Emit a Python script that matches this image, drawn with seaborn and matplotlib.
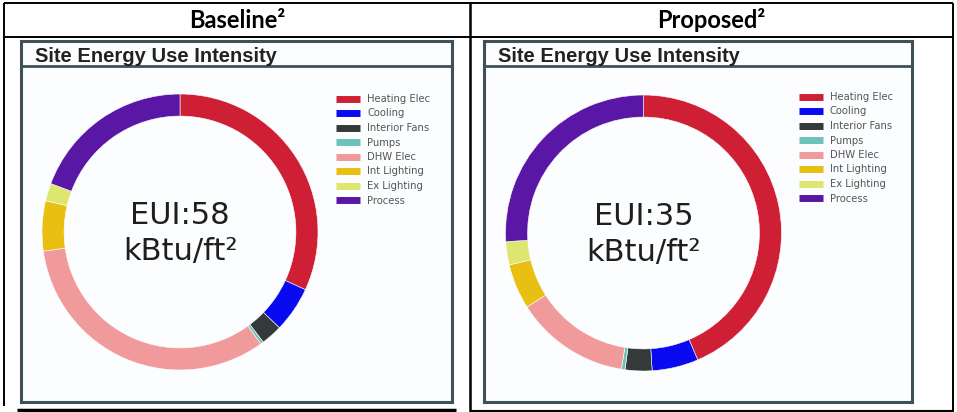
import matplotlib
matplotlib.use("Agg")
import matplotlib.pyplot as plt
from matplotlib.lines import Line2D
import seaborn as sns

W, H = 957, 412

end_uses = ['Heating Elec', 'Cooling', 'Interior Fans', 'Pumps',
            'DHW Elec', 'Int Lighting', 'Ex Lighting', 'Process']
end_use_colors = ['#cf1f35', '#0a0af0', '#343a39', '#6cc3b8',
                  '#f09a9c', '#e9bf12', '#dde66e', '#5a17a6']
baseline_eui = [18.5, 3.1, 1.45, 0.2, 19.0, 3.4, 1.2, 11.2]
proposed_eui = [15.25, 1.9, 1.1, 0.15, 4.7, 1.85, 0.95, 9.1]
totals = [58, 35]
headers = ['Baseline²', 'Proposed²']
panel_title = 'Site Energy Use Intensity'

sns.set_theme(style='white')
palette = sns.color_palette(end_use_colors)


def fx(x):
    return x / W


def fy(y):
    return 1 - y / H


def line(fig, xs, ys, lw=1.4, color='black'):
    fig.add_artist(Line2D([fx(x) for x in xs], [fy(y) for y in ys],
                          color=color, lw=lw, solid_capstyle='butt'))


fig = plt.figure(figsize=(W / 100, H / 100), dpi=100)
fig.patch.set_facecolor('white')

# table grid
line(fig, [4, 953], [3, 3])
line(fig, [4, 953], [37, 37])
line(fig, [4, 4], [3, 406])
line(fig, [953, 953], [3, 412])
line(fig, [470, 470], [3, 412], lw=1.8)
line(fig, [17, 456], [410, 410], lw=2.5)
line(fig, [470, 953], [411, 411], lw=1.5)

for cx, text in zip([237, 711], headers):
    fig.text(fx(cx), fy(20), text, ha='center', va='center',
             fontsize=17, fontweight='bold', family='Lato', color='black')

# panel boxes: (x0, y0, x1, y1), donut centre, legend position
panels = [((21, 41, 452, 402), (180, 232), (336, 94)),
          ((484, 41, 912, 402), (643.5, 233), (799, 92))]
data = [baseline_eui, proposed_eui]
radius = 138

for (box, centre, leg), values, total in zip(panels, data, totals):
    x0, y0, x1, y1 = box
    bg = fig.add_axes([fx(x0), fy(y1), (x1 - x0) / W, (y1 - y0) / H])
    bg.set_facecolor('#fbfdfe')
    bg.set_xticks([])
    bg.set_yticks([])
    for sp in bg.spines.values():
        sp.set_color('#3e5159')
        sp.set_linewidth(2.2)
        sp.set_visible(True)
    line(fig, [x0, x1], [66, 66], lw=2.0, color='#3e5159')
    fig.text(fx(x0 + 14), fy(56), panel_title, ha='left', va='center',
             fontsize=14.5, fontweight='bold', family='Liberation Sans',
             color='#222222')

    cx, cy = centre
    ax = fig.add_axes([fx(cx - radius), fy(cy + radius),
                       2 * radius / W, 2 * radius / H])
    wedges, _ = ax.pie(values, colors=palette, startangle=90,
                       counterclock=False, radius=1,
                       wedgeprops=dict(width=0.16, edgecolor='white',
                                       linewidth=0.4))
    ax.set_xlim(-1, 1)
    ax.set_ylim(-1, 1)
    ax.set_aspect('equal')
    ax.axis('off')
    ax.text(0, 0.12, f'EUI:{total}', ha='center', va='center',
            fontsize=22, color='#1e1e1e', family='DejaVu Sans')
    ax.text(0, -0.14, 'kBtu/ft²', ha='center', va='center',
            fontsize=22, color='#1e1e1e', family='DejaVu Sans')

    handles = [Line2D([], [], color=c, lw=5, solid_capstyle='butt')
               for c in palette]
    lx, ly = leg
    fig.legend(handles, end_uses, loc='upper left',
               bbox_to_anchor=(fx(lx), fy(ly)), frameon=False,
               prop=dict(family='DejaVu Sans', size=7.2),
               labelcolor='#555555', handlelength=2.4, handletextpad=0.7,
               labelspacing=0.45, borderpad=0, borderaxespad=0)

fig.savefig('out.png', dpi=100, facecolor='white')
